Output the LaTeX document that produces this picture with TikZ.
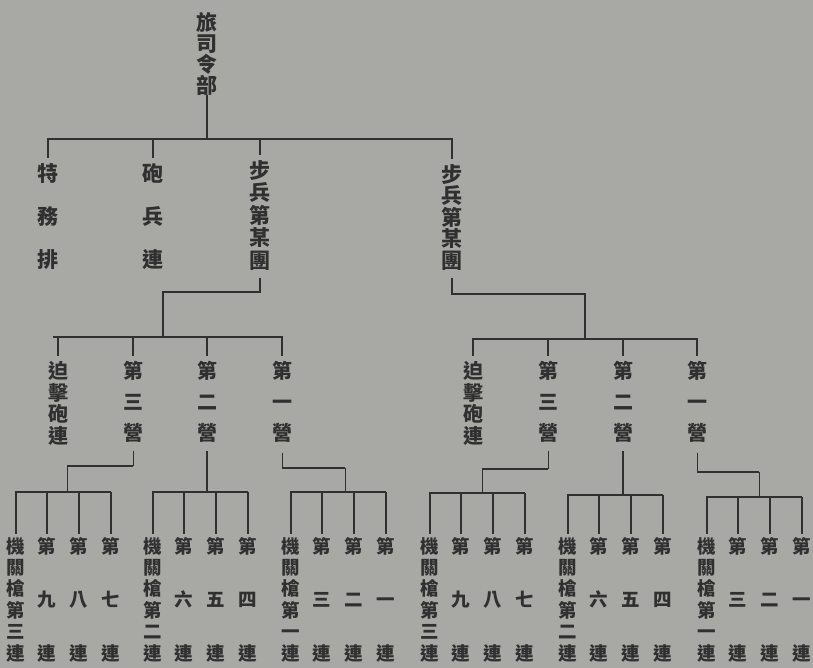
\documentclass[tikz,border=0pt]{standalone}
\usepackage{fontspec}
\newfontfamily\cjk{Noto Sans CJK TC}
\newcommand\labfont[2]{\cjk\bfseries\fontsize{#1}{#2}\selectfont\lineskiplimit=-50pt\relax\lineskip=0pt\relax}
\definecolor{paper}{RGB}{168,168,165}
\definecolor{ink}{RGB}{48,48,48}
\begin{document}
\begin{tikzpicture}[x=1pt,y=-1pt,
  lab/.style={inner sep=0pt, anchor=north, align=center, text=ink},
  wire/.style={draw=ink, line width=1.8pt},
  thinwire/.style={draw=ink, line width=1pt}]
\fill[paper] (0,0) rectangle (813,668);
\useasboundingbox (0,0) rectangle (813,668);

% level 0 and 1
\node[lab, font=\labfont{21}{21}] (hq) at (207,12) {旅\\司\\令\\部};
\node[lab, font=\labfont{21}{43}] (tw) at (48,163) {特\\務\\排};
\node[lab, font=\labfont{21}{43}] (pb) at (153,163) {砲\\兵\\連};
\node[lab, font=\labfont{21}{22.5}] (ta) at (260,160) {步\\兵\\第\\某\\團};
\node[lab, font=\labfont{21}{21.5}] (tb) at (452,164) {步\\兵\\第\\某\\團};

\coordinate (bus0l) at (47,139);
\coordinate (bus0r) at (453,139);
\coordinate (hqd) at (207,139);
\draw[wire] (hq.south) -- (hqd);
\draw[wire] (bus0l) -- (bus0r);
\foreach \n in {tw,pb,ta,tb}
  \draw[wire] (\n.north |- bus0l) -- ([yshift=5pt]\n.north);

% level 2
\node[lab, font=\labfont{20}{21.7}] (pa) at (58,361) {迫\\擊\\砲\\連};
\node[lab, font=\labfont{20}{31}] (a3) at (133,361) {第\\三\\營};
\node[lab, font=\labfont{20}{31}] (a2) at (207,361) {第\\二\\營};
\node[lab, font=\labfont{20}{31}] (a1) at (282,361) {第\\一\\營};
\node[lab, font=\labfont{20}{21.7}] (pb2) at (473,361) {迫\\擊\\砲\\連};
\node[lab, font=\labfont{20}{31}] (b3) at (548,361) {第\\三\\營};
\node[lab, font=\labfont{20}{31}] (b2) at (623,361) {第\\二\\營};
\node[lab, font=\labfont{20}{31}] (b1) at (697,361) {第\\一\\營};

\coordinate (busAl) at (53,337);
\coordinate (busAr) at (283,337);
\coordinate (busBl) at (472,339);
\coordinate (busBr) at (698,339);
\coordinate (ja) at (163,292);
\coordinate (jb) at (585,294);

\draw[wire] ([yshift=-8pt]ta.south) -- (ta.south |- ja) -- (ja) -- (ja |- busAl);
\draw[wire] ([yshift=-8pt]tb.south) -- (tb.south |- jb) -- (jb) -- (jb |- busBl);
\draw[wire] (busAl) -- (busAr);
\draw[wire] (busBl) -- (busBr);
\foreach \n in {pa,a3,a2,a1}
  \draw[wire] (\n.north |- busAl) -- ([yshift=5pt]\n.north);
\foreach \n in {pb2,b3,b2,b1}
  \draw[wire] (\n.north |- busBl) -- ([yshift=5pt]\n.north);

% level 3
\foreach \g/\x/\y/\k/\a/\b/\c in {1/15/492/三/九/八/七, 2/152/492/二/六/五/四, 3/290/492/一/三/二/一,
                                  4/429/493/三/九/八/七, 5/567/495/二/六/五/四, 6/706/497/一/三/二/一}{
  \coordinate (g\g-bus) at (\x,\y);
  \node[lab, font=\labfont{18.5}{21.4}] (g\g-m) at (\x+1,537) {機\\關\\槍\\第\\\k\\連};
  \node[lab, font=\labfont{18.5}{53.5}] (g\g-a) at (\x+32,537) {第\\\a\\連};
  \node[lab, font=\labfont{18.5}{53.5}] (g\g-b) at (\x+64,537) {第\\\b\\連};
  \node[lab, font=\labfont{18.5}{53.5}] (g\g-c) at (\x+96,537) {第\\\c\\連};
  \draw[wire] (\x,\y) -- (\x+96,\y);
  \foreach \n in {m,a,b,c}
    \draw[wire] (g\g-\n.north |- g\g-bus) -- ([yshift=3pt]g\g-\n.north);
}

% level 2 -> level 3
\coordinate (k1) at (67,466);
\coordinate (k3) at (345,468);
\coordinate (k4) at (482,469);
\coordinate (k6) at (759,472);
\draw[thinwire] ([yshift=-8pt]a3.south) -- (a3.south |- k1);
\draw[wire] (a3.south |- k1) -- (k1);
\draw[thinwire] (k1) -- (k1 |- g1-bus);
\draw[wire] ([yshift=-8pt]a2.south) -- (a2.south |- g2-bus);
\draw[thinwire] ([yshift=-10pt]a1.south) -- (a1.south |- k3);
\draw[wire] (a1.south |- k3) -- (k3);
\draw[thinwire] (k3) -- (k3 |- g3-bus);
\draw[thinwire] ([yshift=-8pt]b3.south) -- (b3.south |- k4);
\draw[wire] (b3.south |- k4) -- (k4);
\draw[thinwire] (k4) -- (k4 |- g4-bus);
\draw[wire] ([yshift=-8pt]b2.south) -- (b2.south |- g5-bus);
\draw[thinwire] ([yshift=-10pt]b1.south) -- (b1.south |- k6);
\draw[wire] (b1.south |- k6) -- (k6);
\draw[thinwire] (k6) -- (k6 |- g6-bus);
\end{tikzpicture}
\end{document}
